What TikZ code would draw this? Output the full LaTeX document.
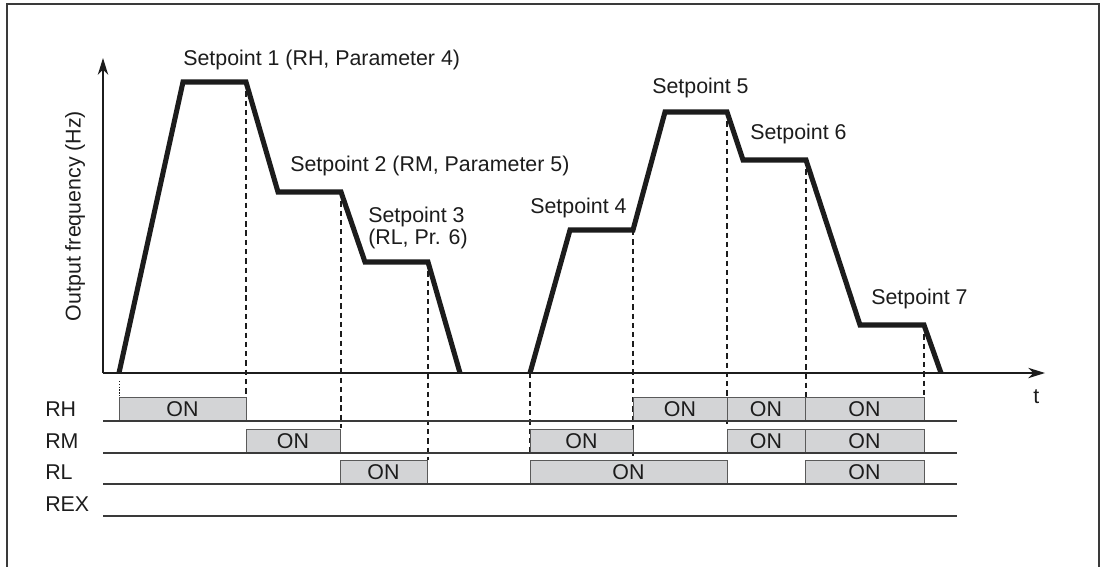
\documentclass[tikz,border=0pt]{standalone}
\usepackage{fontspec}
\setsansfont{Liberation Sans}
\usepackage{tikz}
\usetikzlibrary{arrows.meta,calc}
\definecolor{ink}{HTML}{1C1C1C}
\definecolor{rule}{HTML}{3A3A3A}
\definecolor{onfill}{HTML}{D3D4D6}
\definecolor{onedge}{HTML}{5A5A5A}

\begin{document}
\begin{tikzpicture}[x=0.025cm,y=-0.025cm,font=\sffamily\fontsize{15.2}{15.5}\selectfont,
    axis/.style={draw=ink,line width=0.9pt,-{Stealth[length=4.2mm,width=2.6mm,inset=1.3mm]}},
    freq/.style={draw=ink,line width=3.6pt,line join=miter},
    track/.style={draw=rule,line width=1.2pt},
    guide/.style={draw=ink,line width=0.85pt,dash pattern=on 3.8pt off 2.8pt},
    onbox/.style={fill=onfill,draw=onedge,line width=0.6pt},
    lbl/.style={anchor=base west,text=ink,inner sep=0pt}]
  \useasboundingbox (0,0) rectangle (1103,566);
  \draw[rule,line width=1pt] (7,570) -- (7,4) -- (1099,4) -- (1099,570);

  % corners of the frequency curve
  \foreach \n/\x/\y in {a0/119/373, a1/183/82, a2/246/82, a3/278/192, a4/341/192,
      a5/365/262, a6/428/262, a7/460/373,
      b0/530/373, b1/570/230, b2/633/230, b3/665/112, b4/727/112, b5/743/160,
      b6/806/160, b7/860/325, b8/924/325, b9/941/373}
    \coordinate (\n) at (\x,\y);

  % guide lines down to the relay rows
  \draw[ink,line width=0.5pt,dash pattern=on 1pt off 1pt] (a0) ++(0,8) -- ++(0,16);
  \foreach \n/\y in {a2/397, a4/428, a6/460, b0/456, b2/456, b4/425, b6/397, b8/397}
    \draw[guide] (\n) -- (\n |- 0,\y);

  % relay states
  \foreach \a/\b/\y [count=\i] in {119/246/421, 633/727/421, 727/805/421, 805/924/421,
      246/340/453, 530/633/453, 727/805/453, 805/924/453,
      340/427/484, 530/727/484, 805/924/484} {
    \filldraw[onbox] (\a,\y) rectangle (\b,\y-24);
    \node[text=ink,inner sep=0pt] (on\i) at ({(\a+\b)/2},\y-12) {ON};
  }
  \foreach \y/\name in {421/RH, 453/RM, 484/RL, 516/REX} {
    \draw[track] (103,\y) -- (957,\y);
    \node[lbl] (row\name) at (45,\y-5) {\name};
  }

  % axes
  \coordinate (o) at (103,373);
  \draw[axis] (o) -- (103,58);
  \draw[axis] (o) -- (1045,373);
  \node[lbl] (tlabel) at (1033,403) {t};
  \node[text=ink,rotate=90] (ylabel) at (75,216) {Output frequency (Hz)};

  \draw[freq] (a0) -- (a1) -- (a2) -- (a3) -- (a4) -- (a5) -- (a6) -- (a7);
  \draw[freq] (b0) -- (b1) -- (b2) -- (b3) -- (b4) -- (b5) -- (b6) -- (b7) -- (b8) -- (b9);

  % setpoint labels
  \node[lbl] (sp1) at (183,65) {Setpoint 1 (RH, Parameter 4)};
  \node[lbl] (sp2) at (290,171) {Setpoint 2 (RM, Parameter 5)};
  \node[lbl,align=left] (sp3) at (368,244) {Setpoint 3\\[-0.5pt](RL, Pr. 6)};
  \node[lbl] (sp4) at (530,213) {Setpoint 4};
  \node[lbl] (sp5) at (652,93) {Setpoint 5};
  \node[lbl] (sp6) at (750,139) {Setpoint 6};
  \node[lbl] (sp7) at (871,304) {Setpoint 7};
\end{tikzpicture}
\end{document}
